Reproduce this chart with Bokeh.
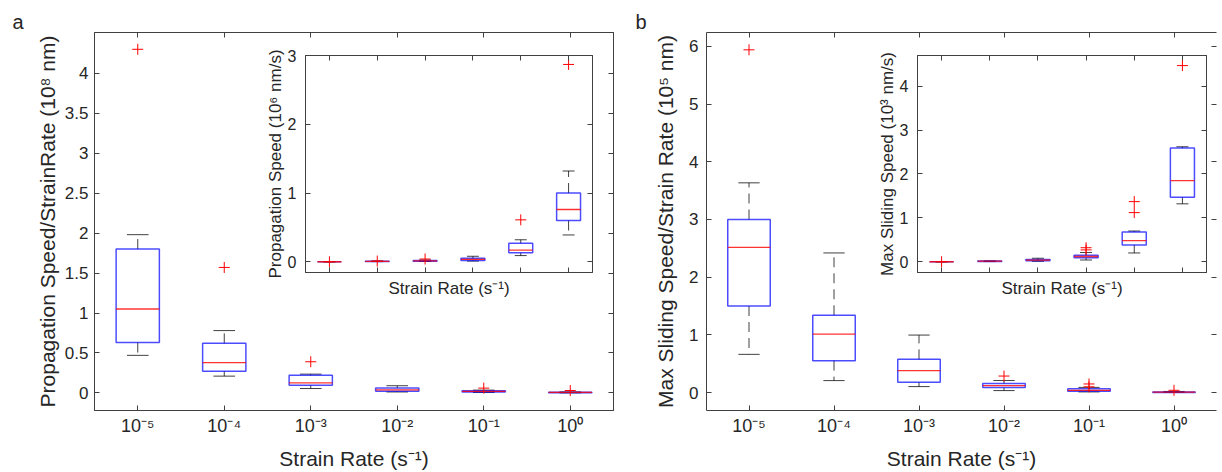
from bokeh.plotting import figure
from bokeh.models import Range1d, LinearAxis, FixedTicker, NumeralTickFormatter, GridBox, Title
from bokeh.embed import file_html
from bokeh.resources import INLINE

# ---------------- data ----------------
strain_labels = ["10⁻⁵", "10⁻⁴", "10⁻³", "10⁻²", "10⁻¹", "10⁰"]

# Panel a, main: Propagation Speed / Strain Rate (10^8 nm)
a_lo = [0.47, 0.21, 0.055, 0.012, 0.006, 0.001]
a_q1 = [0.63, 0.27, 0.096, 0.020, 0.012, 0.003]
a_med = [1.05, 0.38, 0.125, 0.037, 0.020, 0.006]
a_q3 = [1.80, 0.62, 0.220, 0.060, 0.028, 0.009]
a_hi = [1.98, 0.78, 0.235, 0.090, 0.035, 0.012]
a_out = [[4.30], [1.57], [0.39], [], [0.06], [0.03]]

# Panel a, inset: Propagation Speed (10^6 nm/s)
ai_lo = [0.0, 0.002, 0.004, 0.010, 0.09, 0.39]
ai_q1 = [0.0, 0.004, 0.008, 0.020, 0.13, 0.60]
ai_med = [0.0, 0.006, 0.012, 0.035, 0.17, 0.76]
ai_q3 = [0.0, 0.009, 0.018, 0.050, 0.27, 1.00]
ai_hi = [0.0, 0.012, 0.025, 0.080, 0.32, 1.32]
ai_out = [[0.0], [0.01], [0.04], [], [0.61], [2.87]]

# Panel b, main: Max Sliding Speed / Strain Rate (10^5 nm)
b_lo = [0.663, 0.208, 0.104, 0.035, 0.012, 0.002]
b_q1 = [1.50, 0.554, 0.178, 0.087, 0.025, 0.004]
b_med = [2.515, 1.015, 0.380, 0.120, 0.040, 0.008]
b_q3 = [3.00, 1.340, 0.576, 0.156, 0.065, 0.012]
b_hi = [3.635, 2.420, 0.997, 0.210, 0.090, 0.020]
b_out = [[5.94], [], [], [0.287], [0.10, 0.15], [0.04]]

# Panel b, inset: Max Sliding Speed (10^3 nm/s)
bi_lo = [0.0, 0.004, 0.010, 0.04, 0.20, 1.32]
bi_q1 = [0.0, 0.008, 0.020, 0.09, 0.38, 1.47]
bi_med = [0.0, 0.012, 0.035, 0.12, 0.48, 1.85]
bi_q3 = [0.0, 0.016, 0.050, 0.15, 0.68, 2.59]
bi_hi = [0.0, 0.020, 0.080, 0.21, 0.70, 2.62]
bi_out = [[0.0], [], [], [0.27, 0.32], [1.12, 1.37], [4.47]]

a_yticks = [0, 0.5, 1, 1.5, 2, 2.5, 3, 3.5, 4]
ai_yticks = [0, 1, 2, 3]
b_yticks = [0, 1, 2, 3, 4, 5, 6]
bi_yticks = [0, 1, 2, 3, 4]

# ---------------- styling ----------------
FONT = "Liberation Sans"
TXT = "#262626"
AXC = "#404040"


def style_axis(ax, font_size=None, standoff=0):
    ax.axis_line_color = AXC
    ax.major_tick_line_color = AXC
    ax.major_tick_in = 5
    ax.major_tick_out = 0
    ax.minor_tick_line_color = None
    ax.major_label_text_font = FONT
    ax.major_label_standoff = standoff
    ax.axis_label_text_font = FONT
    ax.axis_label_text_font_style = "normal"
    ax.axis_label_text_color = TXT
    if font_size:
        ax.major_label_text_font_size = font_size
        ax.major_label_text_color = TXT
    else:
        ax.major_label_text_font_size = "1px"
        ax.major_label_text_color = None


def make_fig(width, height, ylim, yticks, borders, tick_fs, ystand,
             xlabel, ylabel, label_fs, xlab_stand, ylab_stand,
             show_xticks=True, xtick_fs="18px", xstand=0, transparent=False,
             open_right=False):
    n = len(strain_labels)
    p = figure(width=width, height=height, output_backend="svg", toolbar_location=None,
               x_range=Range1d(0.5, n + 0.5), y_range=Range1d(*ylim),
               min_border_left=borders[0], min_border_right=borders[1],
               min_border_top=borders[2], min_border_bottom=borders[3])
    p.grid.visible = False
    p.outline_line_color = None if open_right else AXC
    p.background_fill_color = "white"
    if transparent:
        p.border_fill_alpha = 0
    xs = list(range(1, n + 1))
    xa = p.xaxis[0]
    xa.ticker = FixedTicker(ticks=xs)
    if show_xticks:
        style_axis(xa, xtick_fs, xstand)
        xa.major_label_overrides = {i + 1: s for i, s in enumerate(strain_labels)}
    else:
        style_axis(xa)
    xa.axis_label = xlabel
    xa.axis_label_text_font_size = label_fs
    xa.axis_label_standoff = xlab_stand
    ya = p.yaxis[0]
    ya.ticker = FixedTicker(ticks=yticks)
    ya.formatter = NumeralTickFormatter(format="0.[0]")
    style_axis(ya, tick_fs, ystand)
    ya.axis_label = ylabel
    ya.axis_label_text_font_size = label_fs
    ya.axis_label_standoff = ylab_stand
    top = LinearAxis(ticker=FixedTicker(ticks=xs))
    style_axis(top)
    p.add_layout(top, "above")
    right = LinearAxis(ticker=FixedTicker(ticks=yticks))
    style_axis(right)
    if open_right:
        right.axis_line_color = None
    p.add_layout(right, "right")
    return p


def draw_boxes(p, lo, q1, med, q3, hi, outs, w=0.5):
    xs = [i + 1 for i in range(len(lo))]
    p.segment(x0=xs, x1=xs, y0=q3, y1=hi, line_color="black", line_alpha=0.75,
              line_width=1, line_dash="10 6")
    p.segment(x0=xs, x1=xs, y0=q1, y1=lo, line_color="black", line_alpha=0.75,
              line_width=1, line_dash="10 6")
    cl = [x - w / 4 for x in xs]
    cr = [x + w / 4 for x in xs]
    p.segment(x0=cl, x1=cr, y0=hi, y1=hi, line_color="black", line_alpha=0.75, line_width=1)
    p.segment(x0=cl, x1=cr, y0=lo, y1=lo, line_color="black", line_alpha=0.75, line_width=1)
    p.vbar(x=xs, width=w, bottom=q1, top=q3, fill_color=None, line_color="#0000ff",
           line_alpha=0.7, line_width=1.5)
    ml = [x - w / 2 for x in xs]
    mr = [x + w / 2 for x in xs]
    p.segment(x0=ml, x1=mr, y0=med, y1=med, line_color="#ff0000", line_alpha=0.8,
              line_width=1.3)
    ox, oy = [], []
    for x, vals in zip(xs, outs):
        for v in vals:
            ox.append(x)
            oy.append(v)
    p.scatter(x=ox, y=oy, marker="cross", size=11, line_color="#ff0000", line_width=1)


def panel_letter(p, letter, offset):
    p.add_layout(Title(text=letter, align="left", offset=offset, standoff=0,
                       text_font=FONT, text_font_size="20px", text_font_style="normal",
                       text_color=TXT), "above")


# Borders shared by plots in the same grid row / column
TOP, BOTTOM = 32, 62
A_LEFT, A_RIGHT = 94, 7
B_LEFT, B_RIGHT = 86, 6
H = 472

# ---------------- panel a ----------------
figA = make_fig(620, H, (-0.22, 4.51), a_yticks, (A_LEFT, A_RIGHT, TOP, BOTTOM), "17px", 6,
                "Strain Rate (s⁻¹)", "Propagation Speed/StrainRate (10⁸ nm)", "21px", 8, 3,
                show_xticks=True, xstand=5)
draw_boxes(figA, a_lo, a_q1, a_med, a_q3, a_hi, a_out)
panel_letter(figA, "a", -82)

insA = make_fig(A_LEFT + 287 + A_RIGHT, TOP + 217 + BOTTOM, (-0.156, 3.0), ai_yticks,
                (40, 4, 10, 30), "16px", 9,
                "Strain Rate (s⁻¹)", "Propagation Speed (10⁶ nm/s)", "17px", 6, 0,
                show_xticks=False, transparent=True)
draw_boxes(insA, ai_lo, ai_q1, ai_med, ai_q3, ai_hi, ai_out)
insA.margin = (55 - TOP, 0, 0, 305 - A_LEFT)

# ---------------- panel b ----------------
figB = make_fig(602, H, (-0.31, 6.24), b_yticks, (B_LEFT, B_RIGHT, TOP, BOTTOM), "17px", 8,
                "Strain Rate (s⁻¹)", "Max Sliding Speed/Strain Rate (10⁵ nm)", "21px", 8, 9,
                show_xticks=True, xstand=5, open_right=True)
draw_boxes(figB, b_lo, b_q1, b_med, b_q3, b_hi, b_out)
panel_letter(figB, "b", -71)

insB = make_fig(B_LEFT + 289 + B_RIGHT, TOP + 217 + BOTTOM, (-0.245, 4.70), bi_yticks,
                (40, 4, 10, 30), "16px", 9,
                "Strain Rate (s⁻¹)", "Max Sliding Speed (10³ nm/s)", "17px", 6, 0,
                show_xticks=False, transparent=True)
draw_boxes(insB, bi_lo, bi_q1, bi_med, bi_q3, bi_hi, bi_out)
insB.margin = (55 - TOP, 0, 0, 917 - 620 - B_LEFT)

layout = GridBox(children=[(figA, 0, 0), (insA, 0, 0), (figB, 0, 1), (insB, 0, 1)])

open("out.html", "w").write(file_html(layout, INLINE))
